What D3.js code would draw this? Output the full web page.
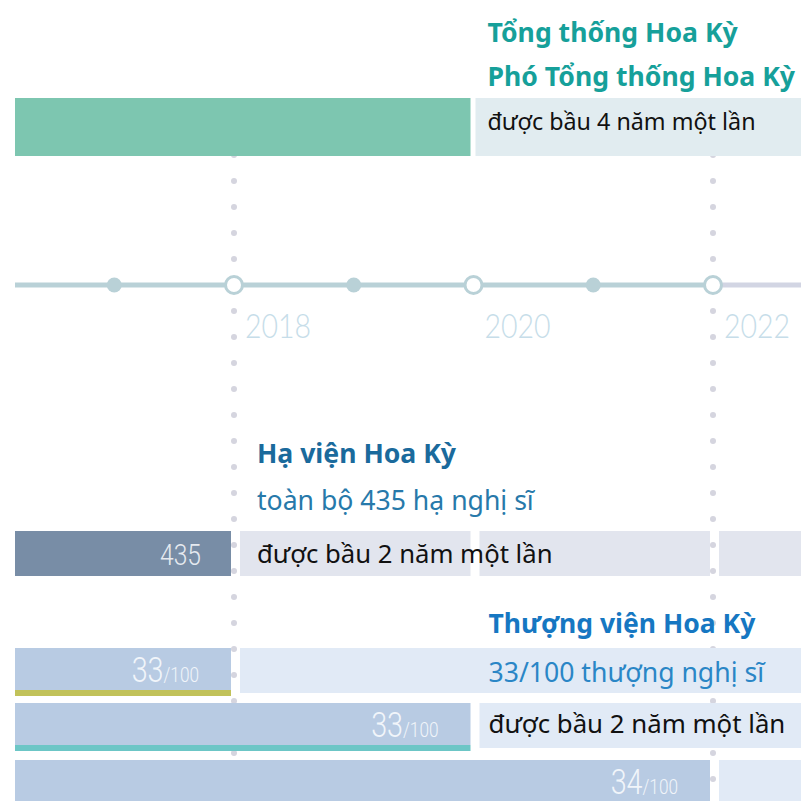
<!DOCTYPE html>
<html>
<head>
<meta charset="utf-8">
<script src="https://cdn.jsdelivr.net/npm/d3@7"></script>
<style>
  body { margin: 0; background: #fff; }
  svg { display: block; }
</style>
</head>
<body>
<div id="chart"></div>
<script>
// ---- data ----
const electionYears = [2018, 2020, 2022];
const midYears = [2017, 2019, 2021];
const tickLabels = ["2018", "2020", "2022"];
const dottedYears = [2018, 2022];

const presidentTerms = [[2016, 2020], [2020, 2024]];
const presidentTitles = ["Tổng thống Hoa Kỳ", "Phó Tổng thống Hoa Kỳ"];
const presidentNote = "được bầu 4 năm một lần";

const houseTerms = [[2016, 2018], [2018, 2020], [2020, 2022], [2022, 2024]];
const houseSeats = "435";
const houseTitle = "Hạ viện Hoa Kỳ";
const houseSub = "toàn bộ 435 hạ nghị sĩ";
const houseNote = "được bầu 2 năm một lần";

const senateClassEnds = [2018, 2020, 2022];
const senateSeats = ["33", "33", "34"];
const senateTotal = "/100";
const senateTitle = "Thượng viện Hoa Kỳ";
const senateSub = "33/100 thượng nghị sĩ";
const senateNote = "được bầu 2 năm một lần";

// ---- setup ----
const W = 801, H = 801;
const left = 15;
const font = "'Noto Sans', Roboto, sans-serif";
const numFont = "Roboto, sans-serif";

const svg = d3.select("#chart").append("svg")
    .attr("width", W)
    .attr("height", H);

svg.append("defs").append("clipPath").attr("id", "clip")
    .append("rect").attr("x", left).attr("y", 0).attr("width", W - left).attr("height", H);

const x = d3.scaleLinear().domain([2018, 2022]).range([234, 713]);

// gaps around an election date
const gapEnd = 3, gapStart = 6;

// ---- dotted guide lines ----
const dotYs = d3.range(155, H + 10, 26);
dottedYears.forEach(yr => {
    svg.append("g").selectAll("circle")
        .data(dotYs)
        .enter()
        .append("circle")
        .attr("cx", x(yr))
        .attr("cy", d => d)
        .attr("r", 3)
        .attr("fill", "#d5d5df");
});

const bars = svg.append("g").attr("clip-path", "url(#clip)");

// ---- president ----
const presY = 98, presH = 58;
bars.selectAll(".pres")
    .data(presidentTerms)
    .enter()
    .append("rect")
    .attr("x", (d, i) => x(d[0]) + (i ? 2 : 0))
    .attr("y", presY)
    .attr("width", (d, i) => x(d[1]) - x(d[0]) - gapEnd - (i ? 2 : 0))
    .attr("height", presH)
    .attr("fill", (d, i) => i ? "#e1ecf0" : "#7dc6b0");

// ---- house ----
const houseY = 531, houseH = 45;
bars.selectAll(".house")
    .data(houseTerms)
    .enter()
    .append("rect")
    .attr("x", (d, i) => x(d[0]) + (i ? gapStart : 0))
    .attr("y", houseY)
    .attr("width", (d, i) => x(d[1]) - x(d[0]) - gapEnd - (i ? gapStart : 0))
    .attr("height", houseH)
    .attr("fill", (d, i) => i ? "#e2e5ee" : "#788da6");

// ---- senate ----
const senateY = [648, 703, 760], senH = 42, lineH = 6, nextH = 45;
const lineColors = ["#c1c25a", "#6cc6c6", "#9fc9de"];
senateClassEnds.forEach((end, i) => {
    const g = bars.append("g");
    g.append("rect")
        .attr("x", x(end - 6))
        .attr("y", senateY[i])
        .attr("width", x(end) - x(end - 6) - gapEnd)
        .attr("height", senH)
        .attr("fill", "#b8cbe3");
    g.append("rect")
        .attr("x", x(end - 6))
        .attr("y", senateY[i] + senH)
        .attr("width", x(end) - x(end - 6) - gapEnd)
        .attr("height", lineH)
        .attr("fill", lineColors[i]);
    g.append("rect")
        .attr("x", x(end) + gapStart)
        .attr("y", senateY[i])
        .attr("width", x(end + 6) - x(end) - gapStart)
        .attr("height", nextH)
        .attr("fill", "#e1eaf6");
});

// ---- timeline ----
const tlY = 285;
const axisG = svg.append("g");
axisG.append("line")
    .attr("x1", left).attr("x2", x(2022))
    .attr("y1", tlY).attr("y2", tlY)
    .attr("stroke", "#b9d1d7").attr("stroke-width", 5);
axisG.append("line")
    .attr("x1", x(2022)).attr("x2", W)
    .attr("y1", tlY).attr("y2", tlY)
    .attr("stroke", "#d2d5e3").attr("stroke-width", 5);

axisG.selectAll(".mid")
    .data(midYears)
    .enter()
    .append("circle")
    .attr("cx", d => x(d))
    .attr("cy", tlY)
    .attr("r", 7.5)
    .attr("fill", "#b9d1d7");

axisG.selectAll(".elec")
    .data(electionYears)
    .enter()
    .append("circle")
    .attr("cx", d => x(d))
    .attr("cy", tlY)
    .attr("r", 8.5)
    .attr("fill", "#fff")
    .attr("stroke", "#b9d1d7")
    .attr("stroke-width", 3);

axisG.selectAll(".tick")
    .data(electionYears)
    .enter()
    .append("text")
    .attr("transform", d => `translate(${x(d) + 11},338) scale(0.92,1.05)`)
    .text((d, i) => tickLabels[i])
    .attr("font-family", "Lato, sans-serif")
    .attr("font-weight", 300)
    .attr("font-size", 31)
    .attr("fill", "#c6dde9");

// ---- bar numbers ----
function barNumber(xEnd, yBase, big, small, color) {
    const t = svg.append("text")
        .attr("transform", `translate(${xEnd},${yBase}) scale(0.82,1)`)
        .attr("text-anchor", "end")
        .attr("font-family", numFont)
        .attr("font-weight", 300)
        .attr("fill", color);
    t.append("tspan").attr("font-size", small ? 35 : 30).text(big);
    if (small) t.append("tspan").attr("font-size", 21).text(small);
}

barNumber(x(2018) - 33, houseY + 34, houseSeats, null, "#e6eaf0");
senateClassEnds.forEach((end, i) => {
    barNumber(x(end) - 35, senateY[i] + 34, senateSeats[i], senateTotal, "#f1f5fa");
});

// ---- labels ----
function label(xPos, yPos, txt, size, weight, color) {
    svg.append("text")
        .attr("x", xPos)
        .attr("y", yPos)
        .text(txt)
        .attr("font-family", font)
        .attr("font-size", size)
        .attr("font-weight", weight)
        .attr("fill", color);
}

presidentTitles.forEach((t, i) => label(x(2020) + 14, 42 + i * 44, t, 26.6, 700, "#16a09a"));
label(x(2020) + 14, 130, presidentNote, 23.3, 400, "#111");

label(x(2018) + 23, 463, houseTitle, 26.6, 700, "#1a6a9c");
label(x(2018) + 23, 510, houseSub, 26.6, 400, "#2779aa");
label(x(2018) + 23, 563, houseNote, 25.7, 400, "#111");

label(x(2020) + 15, 633, senateTitle, 26.5, 700, "#1677c2");
label(x(2020) + 15, 682, senateSub, 26.6, 400, "#2a86c6");
label(x(2020) + 15, 733, senateNote, 25.8, 400, "#111");
</script>
</body>
</html>
